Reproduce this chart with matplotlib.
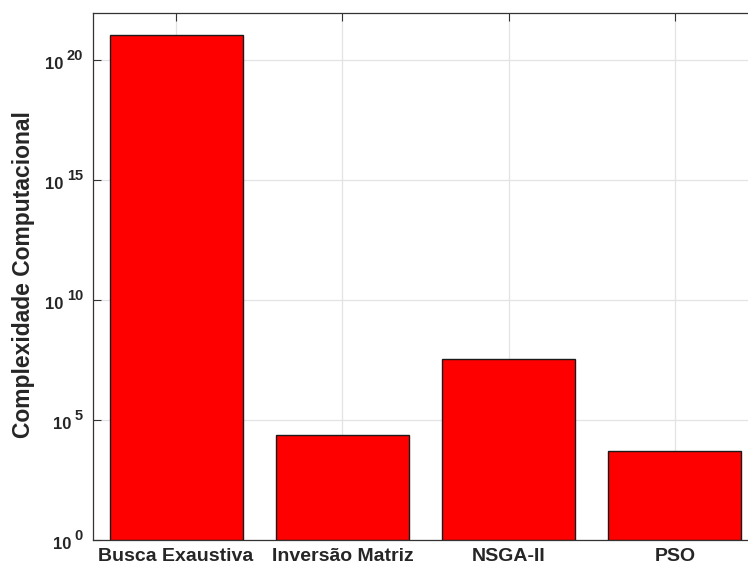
import matplotlib
matplotlib.use("Agg")
import matplotlib.pyplot as plt
import matplotlib.transforms as mtransforms
import numpy as np

# Computational complexity per method (log scale)
categories = ["Busca Exaustiva", "Inversão Matriz", "NSGA-II", "PSO"]
complexity = [1.1e21, 2.4e4, 3.6e7, 5.3e3]
ytick_exponents = [0, 5, 10, 15, 20]

plt.rcParams["font.family"] = ["Liberation Sans", "DejaVu Sans"]

text_color = "#262626"
axis_color = "#333333"

fig = plt.figure(figsize=(7.48, 5.70), dpi=100)
ax = fig.add_axes([93 / 748, 1 - 540 / 570, (758 - 93) / 748, (540 - 12.5) / 570])

x = np.arange(1, len(categories) + 1)
ax.bar(x, complexity, width=0.8, bottom=1.0, color="#ff0000",
       edgecolor="#1a1a1a", linewidth=1.0, zorder=3)

ax.set_yscale("log")
ax.set_ylim(1.0, 1e22)
ax.set_xlim(0.5, 4.5)

ax.set_xticks(x)
ax.set_xticklabels(categories, fontsize=14, fontweight="bold", color=text_color)
ax.set_yticks([10.0 ** e for e in ytick_exponents])
ax.set_yticklabels([])
ax.yaxis.set_minor_locator(matplotlib.ticker.NullLocator())

ax.tick_params(axis="both", which="major", direction="in", length=6,
               width=0.8, color=axis_color, top=True, right=True, pad=6)

ax.grid(True, which="major", color="#e3e3e3", linewidth=0.9, zorder=0)
ax.set_axisbelow(True)

for sp in ax.spines.values():
    sp.set_color(axis_color)
    sp.set_linewidth(0.9)

# Power-of-ten tick labels: base "10" with a raised exponent
px = 72.0 / fig.dpi  # one pixel in points
fig.canvas.draw()
renderer = fig.canvas.get_renderer()
trans = ax.get_yaxis_transform()
for e in ytick_exponents:
    y = 10.0 ** e
    exp_off = mtransforms.offset_copy(trans, fig=fig, x=-10 * px, y=0, units="points")
    t_exp = ax.text(0, y, str(e), transform=exp_off, ha="right", va="baseline",
                    fontsize=10.5, fontweight="bold", color=text_color, clip_on=False)
    w = t_exp.get_window_extent(renderer).width
    base_off = mtransforms.offset_copy(trans, fig=fig, x=-(10 + w + 3) * px,
                                       y=-9 * px, units="points")
    ax.text(0, y, "10", transform=base_off, ha="right", va="baseline",
            fontsize=12, fontweight="bold", color=text_color, clip_on=False)

fig.text(24 / 748, 1 - 275 / 570, "Complexidade Computacional", rotation=90,
         ha="center", va="center", fontsize=16.5, fontweight="bold", color=text_color)

fig.savefig("out.png", dpi=100)
